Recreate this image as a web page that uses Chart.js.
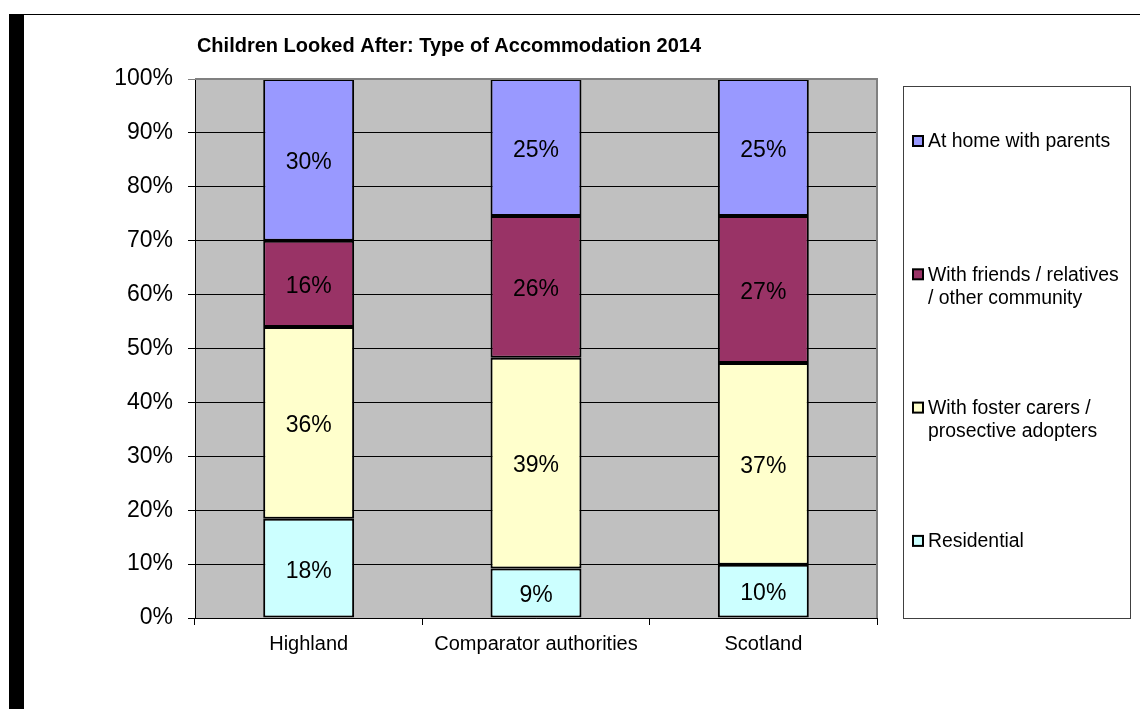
<!DOCTYPE html>
<html>
<head>
<meta charset="utf-8">
<script src="https://cdn.jsdelivr.net/npm/chart.js@4.4.1/dist/chart.umd.min.js"></script>
<style>
  body { margin: 0; background: #fff; }
  #wrap { position: relative; width: 1140px; height: 709px; }
</style>
</head>
<body>
<div id="wrap"><canvas id="accomChart" width="1140" height="709"></canvas></div>
<script>
// ---------- data ----------
const categories = ["Highland", "Comparator authorities", "Scotland"];
const residential = [18.4, 9.2, 9.9];
const fosterCarers = [35.6, 39.1, 37.4];
const friendsRelatives = [16.0, 26.3, 27.3];
const homeWithParents = [30.0, 25.4, 25.4];
const yTicks = [0, 10, 20, 30, 40, 50, 60, 70, 80, 90, 100];
const chartTitle = "Children Looked After: Type of Accommodation 2014";

const FONT = "'Liberation Sans', Arial, sans-serif";

// bottom of the stack first
const series = [
    { label: "Residential", data: residential, color: "#CCFFFF" },
    { label: "With foster carers /\nprosective adopters", data: fosterCarers, color: "#FFFFCC" },
    { label: "With friends / relatives\n/ other community", data: friendsRelatives, color: "#993366" },
    { label: "At home with parents", data: homeWithParents, color: "#9999FF" }
];

// grey plot background + frame bits
const backdrop = {
    id: "backdrop",
    beforeDraw(chart) {
        const c = chart.ctx;
        const a = chart.chartArea;
        c.save();
        c.fillStyle = "#C0C0C0";
        c.fillRect(a.left, a.top, a.right - a.left, a.bottom - a.top);
        // black strip on the left and the top rule
        c.fillStyle = "#000";
        c.fillRect(9, 14, 15, 709 - 14);
        c.fillRect(9, 14, 1140 - 9, 1);
        c.restore();
    },
    afterDatasetsDraw(chart) {
        const c = chart.ctx;
        const a = chart.chartArea;
        c.save();
        c.strokeStyle = "#808080";
        c.lineWidth = 2;
        c.beginPath();
        c.moveTo(a.left, a.top);
        c.lineTo(a.right, a.top);
        c.lineTo(a.right, a.bottom);
        c.stroke();
        c.restore();
    }
};

// percentage labels in the middle of each segment
const segmentLabels = {
    id: "segmentLabels",
    afterDatasetsDraw(chart) {
        const c = chart.ctx;
        c.save();
        c.font = "23px " + FONT;
        c.fillStyle = "#000";
        c.textAlign = "center";
        c.textBaseline = "middle";
        chart.data.datasets.forEach((ds, i) => {
            chart.getDatasetMeta(i).data.forEach((bar, j) => {
                const p = bar.getProps(["x", "y", "base"], true);
                c.fillText(Math.round(ds.data[j]) + "%", p.x, (p.y + p.base) / 2 + 3);
            });
        });
        c.restore();
    }
};

// title + boxed legend on the right
const sideLegend = {
    id: "sideLegend",
    afterDraw(chart) {
        const c = chart.ctx;
        c.save();
        c.font = "bold 20px " + FONT;
        c.fillStyle = "#000";
        c.textAlign = "center";
        c.textBaseline = "middle";
        c.fillText(chartTitle, 449, 46);

        c.strokeStyle = "#404040";
        c.lineWidth = 1;
        c.strokeRect(903.5, 86.5, 227, 532);

        c.font = "19.4px " + FONT;
        c.textAlign = "left";
        const items = series.slice().reverse();
        items.forEach((s, i) => {
            const y = 141 + i * 133.3;
            c.fillStyle = s.color;
            c.fillRect(913, y - 5, 10, 10);
            c.strokeStyle = "#000";
            c.lineWidth = 2;
            c.strokeRect(913, y - 5, 10, 10);
            c.fillStyle = "#000";
            s.label.split("\n").forEach((line, k) => {
                c.fillText(line, 928, y + 1 + k * 23);
            });
        });
        c.restore();
    }
};

const ctx = document.getElementById("accomChart").getContext("2d");

new Chart(ctx, {
    type: "bar",
    data: {
        labels: categories,
        datasets: series.map(s => ({
            label: s.label,
            data: s.data,
            backgroundColor: s.color,
            borderColor: "#000",
            borderWidth: 2,
            borderSkipped: false,
            categoryPercentage: 1,
            barPercentage: 0.4
        }))
    },
    options: {
        responsive: false,
        animation: false,
        devicePixelRatio: 1,
        layout: { padding: { left: 95, right: 263, top: 79, bottom: 51 } },
        scales: {
            x: {
                stacked: true,
                offset: true,
                afterFit: (scale) => { scale.height = 40; },
                grid: { drawOnChartArea: false, offset: true, tickLength: 7, color: "#000" },
                border: { color: "#000", width: 1 },
                ticks: { color: "#000", padding: 7, font: { family: FONT, size: 20 } }
            },
            y: {
                stacked: true,
                min: 0,
                max: 100,
                afterFit: (scale) => { scale.width = 100; },
                afterBuildTicks: (scale) => { scale.ticks = yTicks.map(v => ({ value: v })); },
                grid: {
                    tickLength: 7,
                    color: (c) => (c.tick && c.tick.value === 100 ? "#808080" : "#000")
                },
                border: { color: "#000", width: 1 },
                ticks: {
                    color: "#000",
                    padding: 15,
                    font: { family: FONT, size: 23 },
                    callback: (v) => v + "%"
                }
            }
        },
        plugins: {
            legend: { display: false },
            title: { display: false },
            tooltip: { enabled: false }
        }
    },
    plugins: [backdrop, segmentLabels, sideLegend]
});
</script>
</body>
</html>
